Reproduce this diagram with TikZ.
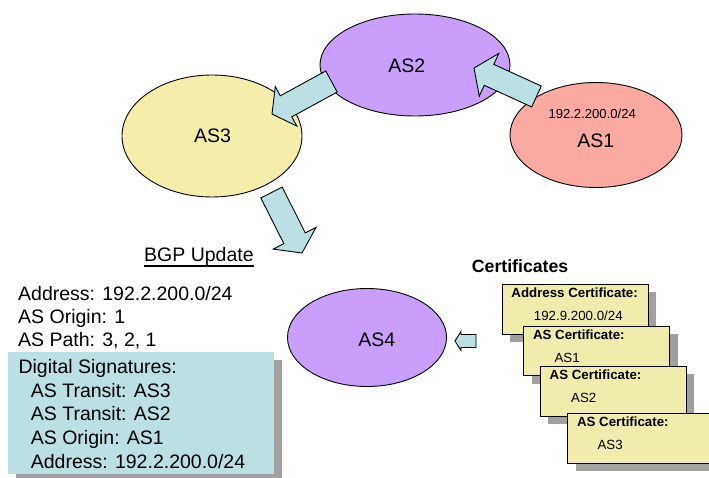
\documentclass[tikz,border=0pt]{standalone}
\usepackage{fontspec}
\setmainfont{Liberation Sans}
\usetikzlibrary{calc,shapes.geometric,shadows}

\definecolor{aspurple}{RGB}{200,160,252}
\definecolor{asyellow}{RGB}{245,238,170}
\definecolor{asred}{RGB}{250,170,160}
\definecolor{arrowblue}{RGB}{186,224,228}
\definecolor{certyellow}{RGB}{240,237,172}
\definecolor{shadowgray}{RGB}{160,160,160}

\tikzset{
  asnode/.style={ellipse, draw, line width=0.9, inner sep=0},
  astext/.style={anchor=base, inner sep=0},
  fatarrow/.style={draw, line width=0.9, fill=arrowblue, line join=miter},
  certbox/.style={draw, line width=0.9, fill=certyellow, anchor=north west,
    minimum width=146, minimum height=49.5, inner sep=0,
    drop shadow={shadow xshift=8pt, shadow yshift=-8pt, fill=shadowgray, opacity=1}},
  certtitle/.style={anchor=base west, inner sep=0, font=\bfseries\fontsize{13.3}{16}\selectfont},
  certval/.style={anchor=base west, inner sep=0, font=\fontsize{13.3}{16}\selectfont},
  line/.style={anchor=base west, inner sep=0},
}

% block arrow: tail, tip, half body width, half head width, head length
\newcommand{\fatarrow}[5]{%
  \coordinate (hb) at ($(#2)!#5!(#1)$);
  \draw[fatarrow] ($(#1)!#3!90:(#2)$) -- ($(hb)!#3!90:(#2)$) -- ($(hb)!#4!90:(#2)$)
    -- (#2) -- ($(hb)!#4!-90:(#2)$) -- ($(hb)!#3!-90:(#2)$) -- ($(#1)!#3!-90:(#2)$) -- cycle;}

\begin{document}
\begin{tikzpicture}[x=1pt,y=-1pt,font=\fontsize{19.5}{23}\selectfont]
\clip (0,0) rectangle (709,478);

% the four ASes
\node[asnode, fill=asyellow, minimum width=180, minimum height=122] (as3) at (212,136) {};
\node[asnode, fill=aspurple, minimum width=190, minimum height=102] (as2) at (415,65) {};
\node[asnode, fill=asred, minimum width=172, minimum height=105] (as1) at (596,135) {};
\node[asnode, fill=aspurple, minimum width=159, minimum height=98] (as4) at (367,337.5) {};

\node[astext] (as2txt) at (406.7,72.7) {AS2};
\node[astext] (as3txt) at (212.5,143) {AS3};
\node[astext] (as1txt) at (595.8,147.7) {AS1};
\node[astext, font=\fontsize{13.1}{16}\selectfont] (prefix) at (592.2,119) {192.2.200.0/24};
\node[astext] (as4txt) at (376.7,346.7) {AS4};

% announcements
\coordinate (t12) at (536.5,96.5);
\coordinate (h12) at (474,68);
\coordinate (t23) at (331.5,81.5);
\coordinate (h23) at (272,114);
\coordinate (t34) at (271.5,192.5);
\coordinate (h34) at (302,253);
\coordinate (tc4) at (476,341);
\coordinate (hc4) at (455,341);
\fatarrow{t12}{h12}{11.5pt}{23.5pt}{16.5pt}
\fatarrow{t23}{h23}{12pt}{22.5pt}{16pt}
\fatarrow{t34}{h34}{12pt}{24pt}{16.5pt}
\fatarrow{tc4}{hc4}{6.5pt}{9.5pt}{6pt}

% the update
\node[line] (bgp) at (144,261.7) {BGP Update};
\draw[line width=1.8] ($(bgp.base west)+(0,4.4)$) -- ($(bgp.base east)+(0,4.4)$);

\node[line] (addr) at (18,300.5) {Address: 192.2.200.0/24};
\node[line] (orig) at (18,323.5) {AS Origin: 1};
\node[line] (path) at (18,346.5) {AS Path: 3, 2, 1};

\node[anchor=north west, fill=arrowblue, minimum width=266, minimum height=122, inner sep=0,
  drop shadow={shadow xshift=8pt, shadow yshift=-8pt, fill=shadowgray, opacity=1}] (sigs) at (8,352) {};
\node[line] (sig0) at (18.3,373.5) {Digital Signatures:};
\node[line] (sig1) at (30.7,397.2) {AS Transit: AS3};
\node[line] (sig2) at (30.7,420.9) {AS Transit: AS2};
\node[line] (sig3) at (30.7,444.6) {AS Origin: AS1};
\node[line] (sig4) at (30.7,468.3) {Address: 192.2.200.0/24};

% certificates
\node[line, font=\bfseries\fontsize{17.7}{21}\selectfont] (certs) at (471.7,272.7) {Certificates};

\node[certbox] (cert1) at (501.7,284) {};
\node[certtitle] (cert1a) at ($(cert1.north west)+(9.5,13.6)$) {Address Certificate:};
\node[certval] (cert1b) at ($(cert1.north west)+(32,36.8)$) {192.9.200.0/24};

\node[certbox] (cert2) at (523.3,325.7) {};
\node[certtitle] (cert2a) at ($(cert2.north west)+(9.5,13.6)$) {AS Certificate:};
\node[certval] (cert2b) at ($(cert2.north west)+(31,36.8)$) {AS1};

\node[certbox] (cert3) at (540,366) {};
\node[certtitle] (cert3a) at ($(cert3.north west)+(9.5,13.6)$) {AS Certificate:};
\node[certval] (cert3b) at ($(cert3.north west)+(31,36.4)$) {AS2};

\node[certbox] (cert4) at (567.3,413.3) {};
\node[certtitle] (cert4a) at ($(cert4.north west)+(9.5,13.6)$) {AS Certificate:};
\node[certval] (cert4b) at ($(cert4.north west)+(30,36)$) {AS3};
\end{tikzpicture}
\end{document}
